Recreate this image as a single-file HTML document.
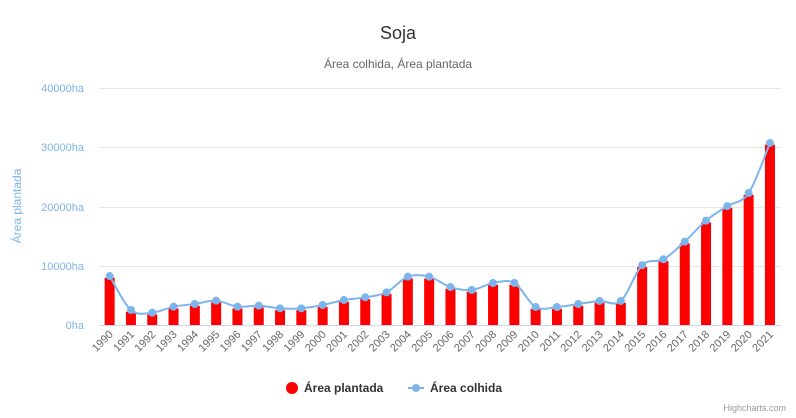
<!DOCTYPE html>
<html><head><meta charset="utf-8"><style>
html,body{margin:0;padding:0;background:#fff;}
svg{display:block;font-family:"Liberation Sans","DejaVu Sans",sans-serif;}
</style></head><body>
<svg id="c" width="796" height="418" xmlns="http://www.w3.org/2000/svg">
<text x="398" y="39" text-anchor="middle" font-size="18" fill="#333">Soja</text>
<text x="398" y="68" text-anchor="middle" font-size="12" fill="#666">Área colhida, Área plantada</text>
<g font-size="11" fill="#7cb5ec" text-anchor="end">
<text x="84" y="92">40000ha</text>
<text x="84" y="151">30000ha</text>
<text x="84" y="211">20000ha</text>
<text x="84" y="270">10000ha</text>
<text x="84" y="329">0ha</text>
</g>
<text transform="translate(21,206) rotate(-90)" text-anchor="middle" font-size="12" fill="#7cb5ec">Área plantada</text>
<g stroke="#e6e6e6" stroke-width="1">
<line x1="99" x2="781" y1="88.5" y2="88.5"/><line x1="99" x2="781" y1="147.5" y2="147.5"/>
<line x1="99" x2="781" y1="207.5" y2="207.5"/><line x1="99" x2="781" y1="266.5" y2="266.5"/>
</g>
<line x1="99" x2="781" y1="325.5" y2="325.5" stroke="#ccd6eb"/>
<g id="bars" fill="#ff0000"></g>
<path id="ln" fill="none" stroke="#7cb5ec" stroke-width="2"/>
<g id="dots" fill="#7cb5ec"></g>
<g id="xl" font-size="11" fill="#666"></g>
<circle cx="292" cy="388" r="6" fill="#ff0000"/>
<text x="304" y="392" font-size="12" font-weight="bold" fill="#333">Área plantada</text>
<line x1="408" x2="424" y1="388" y2="388" stroke="#7cb5ec" stroke-width="2"/>
<circle cx="416" cy="388" r="4" fill="#7cb5ec"/>
<text x="430" y="392" font-size="12" font-weight="bold" fill="#333">Área colhida</text>
<text x="786" y="411" text-anchor="end" font-size="9" fill="#999">Highcharts.com</text>
</svg>
<script>
var v=[8260,2530,2080,3090,3540,4100,3090,3260,2810,2810,3370,4220,4670,5510,8150,8150,6400,5900,7080,7080,3030,3030,3540,4050,4050,10100,11080,14050,17600,20050,22250,30700];
var NS="http://www.w3.org/2000/svg";
function el(t,a,p){var e=document.createElementNS(NS,t);for(var k in a)e.setAttribute(k,a[k]);document.getElementById(p).appendChild(e);return e;}
var X=function(i){return 99+21.3*(i+0.5)},Y=function(val){return 325-val*0.00593};
var pts=v.map(function(val,i){return [X(i),Y(val)]});
v.forEach(function(val,i){var b=Y(val-300);el("rect",{x:X(i)-5,y:b,width:10,height:325-b},"bars");
el("circle",{cx:pts[i][0],cy:pts[i][1],r:4},"dots");
var t=el("text",{transform:"translate("+(X(i)+4)+",335) rotate(-45)","text-anchor":"end"},"xl");t.textContent=1990+i;});
var d="M"+pts[0][0]+","+pts[0][1];
for(var i=0;i<pts.length-1;i++){var p0=pts[Math.max(0,i-1)],p1=pts[i],p2=pts[i+1],p3=pts[Math.min(pts.length-1,i+2)];
var s=1/6;d+=" C"+(p1[0]+(p2[0]-p0[0])*s)+","+(p1[1]+(p2[1]-p0[1])*s)+" "+(p2[0]-(p3[0]-p1[0])*s)+","+(p2[1]-(p3[1]-p1[1])*s)+" "+p2[0]+","+p2[1];}
document.getElementById("ln").setAttribute("d",d);
</script>
</body></html>
